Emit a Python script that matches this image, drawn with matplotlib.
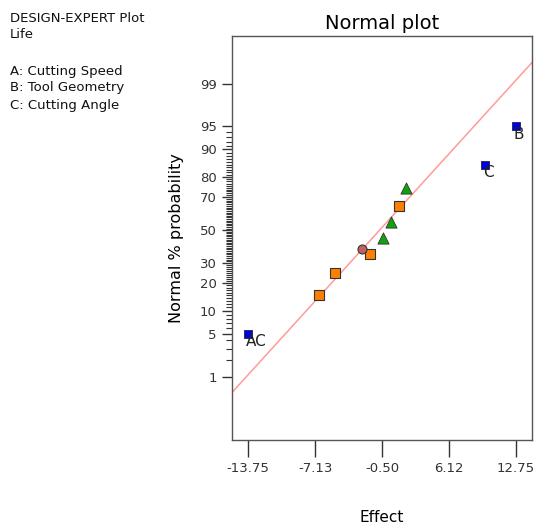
import matplotlib
matplotlib.use("Agg")
import matplotlib.pyplot as plt
from statistics import NormalDist

# efeitos estimados e probabilidade normal (%)
efeitos_quadrado_azul = [-13.75, 9.69, 12.75]
prob_quadrado_azul = [5, 85, 95]
nomes_azul = ["AC", "C", "B"]

efeitos_quadrado_laranja = [-6.79, -5.20, -1.74, 1.19]
prob_quadrado_laranja = [15, 25, 35, 65]

efeitos_triangulo = [-0.43, 0.34, 1.82]
prob_triangulo = [45, 55, 75]

efeitos_circulo = [-2.47]
prob_circulo = [38.5]

# reta de referência: efeito no 50% e desvio
reta_media = -0.75
reta_desvio = 5.67

ticks_x = [-13.75, -7.13, -0.50, 6.12, 12.75]
ticks_y = [1, 5, 10, 20, 30, 50, 70, 80, 90, 95, 99]

nd = NormalDist()
def z(p):
    return nd.inv_cdf(p / 100.0)

fig = plt.figure(figsize=(5.34, 5.29), dpi=100)
ax = fig.add_axes([232 / 534, 1 - 440 / 529, 300 / 534, 404 / 529])

x0, x1 = -15.36, 14.33
ax.plot([x0, x1], [(x0 - reta_media) / reta_desvio, (x1 - reta_media) / reta_desvio],
        color="#ff9a9a", lw=1.1, zorder=1)

ax.scatter(efeitos_quadrado_laranja, [z(p) for p in prob_quadrado_laranja], marker="s",
           s=42, color="#ff8000", edgecolor="#333333", linewidth=0.8, zorder=3)
ax.scatter(efeitos_triangulo, [z(p) for p in prob_triangulo], marker="^",
           s=65, color="#10a010", edgecolor="#333333", linewidth=0.6, zorder=3)
ax.scatter(efeitos_circulo, [z(p) for p in prob_circulo], marker="o",
           s=42, color="#c06060", edgecolor="#333333", linewidth=0.8, zorder=3)
ax.scatter(efeitos_quadrado_azul, [z(p) for p in prob_quadrado_azul], marker="s",
           s=38, color="#0000e6", edgecolor="#222244", linewidth=0.6, zorder=3)
for e, p, n in zip(efeitos_quadrado_azul, prob_quadrado_azul, nomes_azul):
    ax.annotate(n, (e, z(p)), xytext=(-1.5, -0.5), textcoords="offset points",
                ha="left", va="top", fontsize=11, color="#222222")

ax.set_xlim(x0, x1)
ax.set_ylim(-3.33, 3.08)

ax.set_xticks(ticks_x)
ax.set_xticklabels(["%.2f" % t for t in ticks_x])
ax.set_yticks([z(p) for p in ticks_y])
ax.set_yticklabels([str(p) for p in ticks_y])
menores = [p for p in range(2, 95) if p not in ticks_y]
ax.set_yticks([z(p) for p in menores], minor=True)

ax.tick_params(axis="x", length=12, width=1, color="#333333", labelsize=9.5,
               labelcolor="#333333", pad=4)
ax.tick_params(axis="y", which="major", length=7, width=1, color="#333333",
               labelsize=9.5, labelcolor="#333333", pad=4)
ax.tick_params(axis="y", which="minor", length=4, width=0.8, color="#333333")
for s in ax.spines.values():
    s.set_color("#555555")
    s.set_linewidth(1)

ax.set_title("Normal plot", fontsize=14, pad=5)
ax.set_xlabel("Effect", fontsize=11, va="center")
ax.xaxis.set_label_coords(0.5, -77 / 404)
ax.set_ylabel("Normal % probability", fontsize=11.5, va="center")
ax.yaxis.set_label_coords(-55 / 300, 0.5)

linhas = [("DESIGN-EXPERT Plot", 18), ("Life", 34), ("A: Cutting Speed", 71),
          ("B: Tool Geometry", 88), ("C: Cutting Angle", 105)]
for t, y in linhas:
    fig.text(10 / 534, 1 - y / 529, t, fontsize=9.5, va="center", ha="left", color="#111111")

fig.savefig("out.png", dpi=100)
